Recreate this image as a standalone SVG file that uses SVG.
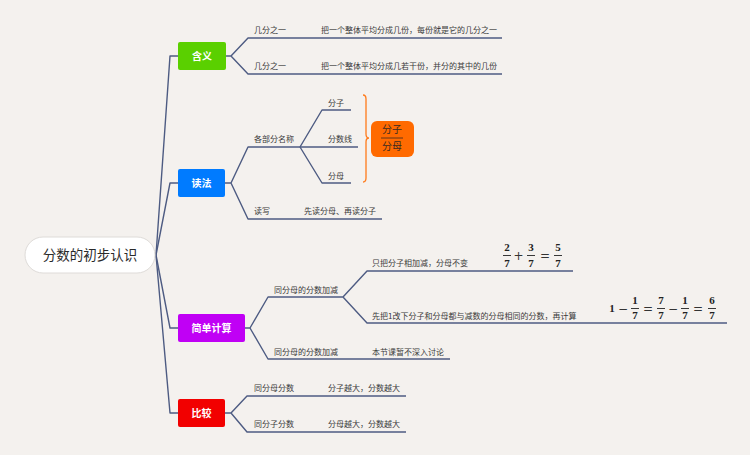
<svg xmlns="http://www.w3.org/2000/svg" width="750" height="455" viewBox="0 0 750 455">
<style>
.bg{fill:#f4f1ee}
.ln{fill:none;stroke:#4d5b82;stroke-width:1.4;stroke-linejoin:round}
.lb{font-family:"Noto Sans CJK SC","Noto Sans",sans-serif;font-size:8px;fill:#3a3a3a}
.nt{font-family:"Noto Sans CJK SC","Noto Sans",sans-serif;font-size:10px;font-weight:bold;fill:#fff;text-anchor:middle}
.mt{font-family:"Liberation Serif",serif;font-size:11px;font-weight:bold;fill:#222;text-anchor:middle}
.op{font-family:"DejaVu Serif","Liberation Serif",serif;font-size:12px;fill:#333;text-anchor:middle}
.fl{stroke:#222;stroke-width:0.9}
</style>
<rect class="bg" x="0" y="0" width="750" height="455"/>
<g id="connectors">
<path class="ln" d="M156,255 L170,56 L178,56"/>
<path class="ln" d="M156,255 L170,183 L178,183"/>
<path class="ln" d="M156,255 L170,328 L178,328"/>
<path class="ln" d="M156,255 L170,413 L178,413"/>
<path class="ln" d="M225,56 L231,56 L248,38 L502,38 M231,56 L248,74 L502,74"/>
<path class="ln" d="M225,183 L231,183 L248,147 L358,147 M231,183 L248,219 L382,219"/>
<path class="ln" d="M300,147 L322,110 L351,110 M300,147 L322,183 L351,183"/>
<path class="ln" d="M245,328 L250,328 L268,297 L343,297 L367,271 L573,271 M343,297 L367,323 L727,323 M250,328 L268,359 L450,359"/>
<path class="ln" d="M225,413 L231,413 L247,396 L406,396 M231,413 L247,432 L406,432"/>
</g>
<g id="root">
<rect x="25" y="237" width="130" height="36" rx="18" fill="#fff" stroke="#dedbd8" stroke-width="1"/>
<text x="90" y="260" text-anchor="middle" font-family="Noto Sans CJK SC, Noto Sans, sans-serif" font-size="13.5" fill="#2a2a2a">分数的初步认识</text>
</g>
<g id="n-hanyi">
<rect x="178" y="42" width="48" height="28" rx="2" fill="#5ad000"/>
<text class="nt" x="202" y="60">含义</text>
</g>
<g id="n-dufa">
<rect x="178" y="169" width="47" height="28" rx="2" fill="#007bff"/>
<text class="nt" x="201.5" y="187">读法</text>
</g>
<g id="n-jisuan">
<rect x="178" y="314" width="67" height="28" rx="2" fill="#c000f5"/>
<text class="nt" x="211.5" y="332">简单计算</text>
</g>
<g id="n-bijiao">
<rect x="178" y="399" width="47" height="28" rx="2" fill="#f20000"/>
<text class="nt" x="201.5" y="417">比较</text>
</g>
<g id="l-hanyi">
<text class="lb" x="254" y="33">几分之一</text>
<text class="lb" x="321" y="33">把一个整体平均分成几份，每份就是它的几分之一</text>
<text class="lb" x="254" y="69">几分之一</text>
<text class="lb" x="321" y="69">把一个整体平均分成几若干份，并分的其中的几份</text>
</g>
<g id="l-dufa">
<text class="lb" x="254" y="142">各部分名称</text>
<text class="lb" x="328" y="106">分子</text>
<text class="lb" x="328" y="142">分数线</text>
<text class="lb" x="328" y="179">分母</text>
<text class="lb" x="254" y="214">读写</text>
<text class="lb" x="304" y="214">先读分母、再读分子</text>
</g>
<g id="brace">
<path d="M363,95 Q366,95 366,99 L366,134 Q366,138 369,138 Q366,138 366,142 L366,178 Q366,182 363,182" fill="none" stroke="#ff7a1a" stroke-width="1.3"/>
</g>
<g id="n-fenshu">
<rect x="371" y="121" width="43" height="36" rx="6" fill="#ff6a00"/>
<text x="392" y="133" text-anchor="middle" font-family="Noto Sans CJK SC, sans-serif" font-size="10" fill="#3a2a20">分子</text>
<line x1="381" y1="138" x2="403" y2="138" stroke="#3a2a20" stroke-width="0.8"/>
<text x="392" y="150" text-anchor="middle" font-family="Noto Sans CJK SC, sans-serif" font-size="10" fill="#3a2a20">分母</text>
</g>
<g id="l-jisuan">
<text class="lb" x="274" y="293">同分母的分数加减</text>
<text class="lb" x="372" y="266">只把分子相加减，分母不变</text>
<text class="lb" x="372" y="319">先把1改下分子和分母都与减数的分母相同的分数，再计算</text>
<text class="lb" x="274" y="355">同分母的分数加减</text>
<text class="lb" x="372" y="355">本节课暂不深入讨论</text>
</g>
<g id="math1">
<text class="mt" x="507" y="251">2</text><line class="fl" x1="503" y1="255.5" x2="511" y2="255.5"/><text class="mt" x="507" y="267">7</text>
<text class="op" x="518.5" y="260">+</text>
<text class="mt" x="531" y="251">3</text><line class="fl" x1="527" y1="255.5" x2="535" y2="255.5"/><text class="mt" x="531" y="267">7</text>
<text class="op" x="545" y="260">=</text>
<text class="mt" x="558" y="251">5</text><line class="fl" x1="554" y1="255.5" x2="562" y2="255.5"/><text class="mt" x="558" y="267">7</text>
</g>
<g id="math2">
<text class="mt" x="612" y="312">1</text>
<text class="op" x="623" y="312.5">−</text>
<text class="mt" x="635" y="304">1</text><line class="fl" x1="631" y1="308.5" x2="639" y2="308.5"/><text class="mt" x="635" y="319">7</text>
<text class="op" x="648" y="312.5">=</text>
<text class="mt" x="661" y="304">7</text><line class="fl" x1="657" y1="308.5" x2="665" y2="308.5"/><text class="mt" x="661" y="319">7</text>
<text class="op" x="673" y="312.5">−</text>
<text class="mt" x="685" y="304">1</text><line class="fl" x1="681" y1="308.5" x2="689" y2="308.5"/><text class="mt" x="685" y="319">7</text>
<text class="op" x="698" y="312.5">=</text>
<text class="mt" x="712" y="304">6</text><line class="fl" x1="708" y1="308.5" x2="716" y2="308.5"/><text class="mt" x="712" y="319">7</text>
</g>
<g id="l-bijiao">
<text class="lb" x="254" y="391">同分母分数</text>
<text class="lb" x="328" y="391">分子越大，分数越大</text>
<text class="lb" x="254" y="427">同分子分数</text>
<text class="lb" x="328" y="427">分母越大，分数越大</text>
</g>
</svg>
